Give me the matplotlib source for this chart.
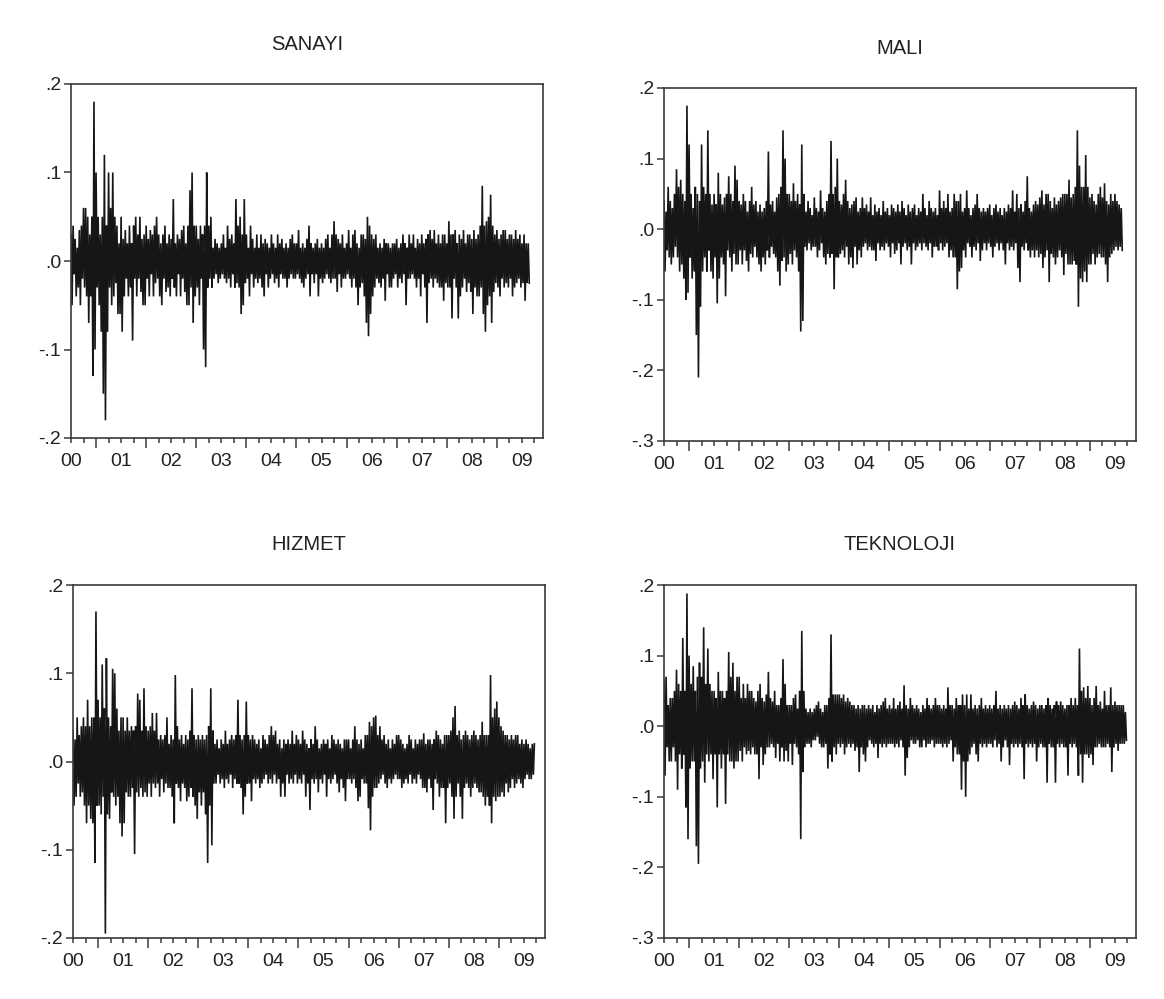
import numpy as np
import matplotlib
matplotlib.use("Agg")
import matplotlib.pyplot as plt
from matplotlib.ticker import FixedLocator, FuncFormatter, NullFormatter

plt.rcParams['font.family'] = ['Liberation Sans', 'DejaVu Sans']

# weekly extreme returns in percent (from mid 2000 on)
sanayi = [
    3, -5, 4, -1.5, 2.5, -4, 1.5, -3, 3.5, -5, 4, -2, 6, -3, 6, -4, 5, -7, 3, -4, 5, -13, 18, -10,  # 2000
    10, -3, 5, -5, 3, -8, 5, -15, 12, -18, 4, -8, 10, -3, 6, -5, 10, -4, 5, -2.5, 4, -6, 2, -6,
    5, -8, 2.5, -4, 3.5, -2, 2, -4, 4, -3, 2, -9, 4, -2, 5, -4, 3, -2, 5, -3.5, 2.5, -5, 3, -5,  # 2001
    4, -2, 2.5, -4, 3.5, -1.5, 3, -4, 4, -2.5, 5, -2, 3, -4, 2, -5, 3, -2, 4, -3.5, 2, -3, 3, -4,
    2.5, -2, 7, -3, 2, -4, 3, -1.5, 2.5, -4, 3.5, -2, 4, -3.5, 2, -5, 4, -5, 8, -3, 10, -7, 4, -4,  # 2002
    4, -3, 2.5, -5, 4, -2, 3, -10, 4, -12, 10, -3, 4, -2, 5, -3, 1.5, -2, 2.5, -1.5, 2, -2.5, 1.5, -2,
    2, -1.5, 3, -2, 1.5, -2.5, 4, -2, 2.5, -3, 3, -1.5, 2, -3, 7, -2.5, 4, -3, 5, -6, 3, -5, 7, -2.5,  # 2003
    3, -2, 1.5, -4, 4, -1.5, 2.5, -3, 1.5, -2, 3, -2.5, 1.5, -2, 3, -3, 2, -4, 2.5, -1.5, 2, -3, 1.5, -2,
    3, -1.5, 2, -2.5, 1.5, -2, 3, -3, 2, -1.5, 2.5, -2, 1.5, -2, 2, -3, 1.5, -2, 2.5, -1.5, 3, -2, 2, -2,  # 2004
    2, -1.5, 3.5, -2, 1.5, -2.5, 2, -3, 1.5, -2, 2.5, -1.5, 4, -4, 2, -1.5, 1.5, -2.5, 2, -1.5, 2.5, -4, 1.5, -2,
    2, -2.5, 1.5, -2, 2.5, -1.5, 3, -2, 1.5, -2.5, 3, -2, 4.5, -2, 3, -3.5, 2.5, -1.5, 2, -3, 3, -2, 1.5, -2,  # 2005
    2, -1.5, 3.5, -2, 1.5, -3, 3, -2, 3.5, -3, 2, -5, 1.5, -3, 3, -2.5, 3, -4, 2.5, -7, 5, -8.5, 4, -6,
    3, -4, 2.5, -3, 3, -2, 1.5, -2.5, 2, -3, 1.5, -2, 2.5, -4.5, 2, -1.5, 2, -3, 1.5, -3, 2, -2,  # 2006
    2, -1.5, 2.5, -3, 1.5, -2, 2, -2.5, 3, -1.5, 2, -5, 1.5, -2, 3, -2, 2, -1.5, 3, -2, 1.5, -3, 2.5, -2,
    2, -4, 3, -1.5, 2, -3, 2.5, -7, 3, -2.5, 3.5, -2, 2.5, -3, 3.5, -2, 2, -2.5, 3, -3, 2, -3, 3, -4.5,  # 2007
    3, -2.5, 2, -3, 4.5, -3, 3, -6.5, 3, -2, 3.5, -3, 2, -6.5, 3, -4, 2.5, -3, 3.5, -2, 2, -3.5, 3, -2.5,
    3, -3.5, 2.5, -6, 3.5, -3, 2.5, -4, 3, -4, 4, -3, 8.5, -6, 4, -8, 4.5, -5, 5, -4, 7.5, -7, 4, -3.5,  # 2008
    3, -2.5, 3.5, -3, 2.5, -4, 3, -2, 3.5, -3, 3.5, -2.5, 2.5, -3, 3, -2, 3, -4, 2.5, -3, 3.5, -2.5, 2.5, -2,
    3, -3, 2, -2.5, 3, -4.5, 2, -2.5, 2, -2.5,  # 2009
]

mali = [
    4, -6, 2.5, -3, 6, -4, 4, -5, 3, -4, 5, -2.5, 8.5, -4, 6, -6, 7, -5, 5, -7, 4, -10, 17.5, -9,  # 2000
    12, -4, 5, -7, 3, -6, 6, -15, 5, -21, 4, -11, 12, -6, 6, -4, 5, -6, 14, -3, 5, -6, 3.5, -7,
    5, -4, 3.5, -10.5, 8, -7, 5, -4, 3.5, -5, 4.5, -9.5, 5, -3, 7.5, -4, 5, -6, 4, -3.5, 9, -5, 7, -5,  # 2001
    4, -3, 3.5, -5, 5, -3, 4, -4.5, 2.5, -6, 4, -3.5, 6, -4, 3.5, -2.5, 4, -4, 2.5, -5, 3.5, -6, 2.5, -4,
    3, -5, 4, -3, 11, -4, 3.5, -2.5, 4, -3.5, 2.5, -4, 4.5, -6, 5, -8, 6, -4.5, 14, -4, 10, -6, 5, -5,  # 2002
    5, -3.5, 4, -5, 6.5, -3, 4, -4, 5, -6, 3.5, -14.5, 12, -13, 5, -2.5, 2.5, -3, 4, -2, 3, -3, 2, -2.5,
    4.5, -2.5, 3, -4, 2.5, -3, 5.5, -2, 3, -4, 2.5, -5, 4, -3.5, 5, -4, 12.5, -3.5, 5, -8.5, 6, -4, 10, -4,  # 2003
    4, -3.5, 3.5, -3, 5, -4, 7, -2.5, 4, -5, 3, -4, 3.5, -5.5, 4, -2.5, 4.5, -5, 2.5, -3, 3, -4, 4.5, -2.5,
    3, -2, 3.5, -3, 2.5, -2.5, 4.5, -3, 2, -3, 3.5, -4.5, 2.5, -2, 3, -3, 2, -2.5, 4, -3, 2.5, -2,  # 2004
    3, -2.5, 2, -4, 3.5, -2, 3, -3.5, 2.5, -3, 3.5, -2, 2.5, -5, 4, -2.5, 3, -2, 2, -3, 3.5, -2.5, 2.5, -5,
    3, -2, 3.5, -3, 2, -2.5, 3, -2, 2.5, -3, 5, -2, 3, -2.5, 2, -3, 4, -2, 3, -4, 2.5, -2.5,  # 2005
    3, -2.5, 2, -3, 5.5, -2, 3, -3, 4, -2.5, 3, -2, 5, -4, 2.5, -3, 3, -4, 5, -4, 4, -8.5, 4, -6,
    5, -5.5, 2.5, -3, 3, -4, 5.5, -2, 3, -2.5, 2, -4, 3, -2.5, 3.5, -3, 5, -2, 3, -4.5, 2.5, -3, 3, -2,  # 2006
    2.5, -3, 3, -2, 3.5, -2.5, 2, -4, 3, -2.5, 3.5, -2, 2.5, -3, 3, -2, 2, -3, 3, -5, 2.5, -2, 3.5, -3,
    3, -2.5, 5.5, -3, 2.5, -2, 5, -5.5, 3, -7.5, 3.5, -2.5, 2.5, -3, 4, -2, 7.5, -3, 3, -4, 2.5, -3, 3.5, -4,  # 2007
    4, -3, 3.5, -4, 4.5, -3.5, 5.5, -5.5, 3.5, -4, 5, -3, 5, -7.5, 4, -3.5, 3, -4, 4.5, -5, 3.5, -4, 4, -3,
    4.5, -4, 5, -6.5, 5, -3.5, 5, -5, 7, -5, 4.5, -5, 5, -4.5, 6, -5, 14, -11, 9, -7, 6, -7.5, 6, -6,  # 2008
    10.5, -7.5, 6, -5, 4.5, -5, 5, -3.5, 4, -5, 3.5, -4, 5, -3.5, 6, -4, 4.5, -4, 6.5, -5, 4, -7.5, 3.5, -4,
    5, -3.5, 4, -3, 5, -2.5, 4, -3, 3.5, -2.5, 3, -3,  # 2009
]

hizmet = [
    3.5, -5, 2.5, -4, 5, -2.5, 3, -4, 4, -3.5, 5, -5, 4, -7, 7, -5, 4, -6.5, 5, -7, 5, -11.5, 17, -5,  # 2000
    7, -5, 5, -6, 11, -4, 6, -19.5, 11.7, -6, 5, -6.5, 4, -3.5, 10.5, -4, 10, -5, 6, -4, 3.5, -7, 5, -8.5,
    5, -7, 3.5, -3.5, 5, -4, 3.5, -4, 4, -3, 3.5, -10.5, 4, -3.5, 7.7, -4, 7, -3, 3.5, -4, 8.3, -3.5, 4, -4,  # 2001
    3.5, -2.5, 4, -4, 5.5, -2.5, 3.5, -3, 5.5, -2.5, 2.5, -4, 3, -2, 2.5, -3.5, 3, -2.5, 5, -3, 2, -3, 3, -4,
    2.5, -7, 9.8, -2.5, 4, -3, 2.5, -4.5, 3, -2.5, 2, -3, 3, -4.5, 2.5, -4, 3.5, -3, 8.3, -4, 3, -5, 2.5, -6.5,  # 2002
    3, -3.5, 2.5, -5, 3, -3.5, 2.5, -6, 3, -11.5, 4, -5, 8.3, -9.5, 3.5, -2.5, 2, -2.5, 2.5, -1.5, 1.5, -2.5, 2.5, -2,
    2, -3, 3.5, -2, 2, -2.5, 2.5, -1.5, 3, -3, 2.5, -2, 3, -2.5, 7, -2.5, 3, -3, 2.5, -6, 3, -4, 6.8, -2.5,  # 2003
    3, -2.5, 2.5, -4.5, 3, -2, 2.5, -2.5, 2, -2, 2.5, -3, 1.5, -2.5, 3, -2, 2.5, -1.5, 2, -2.5, 3, -2, 4, -2.5,
    3, -1.5, 3.5, -2.5, 2, -2, 2.5, -4, 1.5, -2.5, 2.5, -4, 2, -1.5, 2.5, -2.5, 2, -2, 3.5, -2.5, 2, -1.5, 3, -2.5,  # 2004
    2.5, -2, 2, -2.5, 3.5, -1.5, 2.5, -4, 2, -2.5, 1.5, -5.5, 2.5, -2, 2, -2.5, 4, -2, 2.5, -3.5, 1.5, -2, 2, -2.5,
    2.5, -1.5, 2, -4, 2.5, -2, 1.5, -2.5, 3, -2, 2.5, -1.5, 2, -2.5, 2.5, -3.5, 2, -2, 1.5, -3, 2.5, -4.5, 2.5, -2,  # 2005
    2.5, -2, 1.5, -2.5, 2.5, -2, 4, -3, 2.5, -4.5, 2, -4, 2.5, -2, 1.5, -2.5, 3, -2.5, 3, -5.3, 4.5, -7.8, 4, -4,
    5, -3, 5.2, -3, 3, -2.5, 4, -2, 2.5, -1.5, 3, -2.5, 2, -3, 2.5, -2, 1.5, -2.5, 2.5, -2, 2, -1.5, 3, -2,  # 2006
    3, -2, 2.5, -3, 2, -2.5, 1.5, -2, 2, -2.5, 3, -1.5, 2.5, -2.5, 1.5, -2, 2.5, -2.5, 2, -1.5, 2.5, -2, 2.5, -3,
    3.2, -3, 2, -3.5, 2.5, -2, 2.5, -3, 2, -5.5, 2.5, -2, 3.5, -2.5, 3, -4, 2.5, -3, 2, -3, 3, -7, 3, -3,  # 2007
    3, -2.5, 3.5, -4, 5, -6.5, 6.3, -4, 3, -2.5, 3.5, -4, 2.5, -6.5, 3, -3, 3.5, -2.5, 3, -3, 2.5, -4, 3, -3,
    3.5, -2.5, 3, -3, 2.5, -3.5, 3, -3.5, 4.5, -4, 3, -5, 3, -4, 3, -5, 9.8, -7, 5, -4, 6, -4.5, 6.8, -4,  # 2008
    5, -4, 4, -3.5, 3.5, -4, 3, -2.5, 3, -3.5, 2.5, -3, 3, -2, 2.5, -3, 3, -2.5, 3, -2, 2, -2.5, 2.5, -3,
    2, -2, 2.5, -1.5, 2, -2, 1.5, -2, 2, -1.5, 2,  # 2009
]

teknoloji = [
    6.5, -7, 7, -3, 3, -5, 4, -5, 4, -3, 5, -5, 8, -9, 6, -4, 5, -6, 12.5, -4, 5, -11.5, 18.8, -16,  # 2000
    10, -6, 6, -5, 8.5, -5, 5, -17, 7, -19.5, 9, -6, 7, -5, 14, -8, 6, -4, 11, -5, 6, -4, 5, -7.5,
    5, -4, 4, -11.5, 7.7, -4, 5, -6, 5, -4, 4, -11, 5, -4, 10.5, -5, 7, -5, 9, -6, 5, -5, 7, -5,  # 2001
    7, -3.5, 4, -5, 6, -3, 4, -4, 6, -3.5, 5, -4, 5, -3, 4, -4, 3.5, -4, 5, -7.5, 6, -3, 4, -5.5,
    3.5, -4, 4.5, -3, 7.7, -3, 4, -2.5, 3.5, -3, 5, -4.5, 3, -2.5, 3, -5, 4, -3, 9.5, -5, 6, -3.5, 3, -5,  # 2002
    3, -2.5, 3, -5.5, 4, -2.5, 4.5, -3, 2.5, -4, 5, -16, 13.5, -6.5, 5, -3, 2.5, -2.5, 2, -2.5, 2.5, -3, 2, -2,
    2.5, -2, 3, -1.5, 3.5, -2.5, 2.5, -3, 2, -3, 3, -2.5, 3, -6, 4, -4, 13, -5, 4.5, -3, 4.5, -4, 4.5, -2.5,  # 2003
    4.5, -3, 4, -2.5, 4.5, -4, 3.5, -3, 4, -2.5, 3.5, -3, 3, -2.5, 3, -3.5, 2.5, -3, 3, -6.5, 2.5, -3, 3, -4,
    3, -5, 2.5, -3, 3, -2, 2.5, -2.5, 3, -3, 2, -2.5, 3, -4.5, 2.5, -2.5, 3, -3, 3.5, -2.5, 4, -3, 2.5, -2.5,  # 2004
    3, -2.5, 2.5, -2.5, 4, -3, 2.5, -2.5, 3, -3, 3.5, -2, 2.5, -3, 5.8, -7, 3, -4.5, 2.5, -3, 4, -2, 3, -2.5,
    2.5, -2.5, 3, -2, 2.5, -3, 2, -3, 3, -2, 2.5, -3, 4, -2.5, 3, -2.5, 2.5, -2, 3, -3, 4, -2.5, 3, -2.5,  # 2005
    3, -2.5, 2.5, -3, 3, -2.5, 2.5, -3, 5.5, -2.5, 3, -2, 3, -5, 2.5, -3, 4, -4, 3, -4, 3, -9, 4.5, -5,
    3, -10, 4.5, -5, 2.5, -4, 4.5, -3, 2.5, -2.5, 3, -4, 2.5, -5, 3, -2.5, 4, -3, 2.5, -2.5, 3, -3, 2.5, -2.5,  # 2006
    3, -2.5, 2.5, -3, 3, -2, 5, -3, 2.5, -2.5, 3, -5, 2.5, -3, 3, -2, 2.5, -3, 3, -5.5, 2.5, -2.5, 3, -3,
    3.5, -2.5, 3, -3, 2.5, -2.5, 4, -3, 3, -7.5, 4.5, -2.5, 3, -3, 2.5, -2.5, 3, -3, 3.5, -2.5, 3, -5, 2.5, -3,  # 2007
    3, -2.5, 3, -3, 2.5, -3, 3, -8, 4, -2.5, 3, -3, 2.5, -3, 3, -8, 3.5, -2.5, 3, -3, 3.5, -2.5, 3, -3,
    2.5, -3, 3, -7, 3, -2.5, 4, -3, 3, -2.5, 4, -3, 3, -7, 11, -4, 5, -8, 5.5, -4, 4, -4, 5.7, -4.5,  # 2008
    4, -4, 3, -5.5, 4, -3, 5.7, -3, 3, -2.5, 3.5, -3, 2.5, -3, 5, -3, 3, -2.5, 3, -3, 5.5, -6.5, 3, -3,
    3.5, -2.5, 3, -3.5, 3, -2.5, 3, -2.5, 3, -2.5, 2, -2,  # 2009
]

titles = ['SANAYI', 'MALI', 'HIZMET', 'TEKNOLOJI']
series = [sanayi, mali, hizmet, teknoloji]
y_ranges = [(-0.2, 0.2), (-0.3, 0.2), (-0.2, 0.2), (-0.3, 0.2)]

W, H = 1164, 999
# panel boxes in pixels: left, top, right, bottom
boxes = [(71, 84, 543, 438), (664, 88, 1136, 441),
         (73, 585, 545, 938), (664, 585, 1136, 938)]

edge = '#3a3a3a'
fig = plt.figure(figsize=(W / 100, H / 100), dpi=100)

for title, vals, (y0, y1), (l, t, r, b) in zip(titles, series, y_ranges, boxes):
    ax = fig.add_axes([l / W, 1 - b / H, (r - l) / W, (b - t) / H])
    v = np.array(vals, dtype=float) / 100
    x = 2000.5 + np.arange(len(v)) / 48
    ax.plot(x, v, color='#161616', lw=1.2, solid_joinstyle='miter')

    ax.set_xlim(2000.5, 2009.92)
    ax.set_ylim(y0, y1)

    ax.xaxis.set_major_locator(FixedLocator(np.arange(2001, 2010)))
    ax.xaxis.set_major_formatter(NullFormatter())
    ax.xaxis.set_minor_locator(FixedLocator(np.arange(2000.5, 2009.9, 0.25)))
    ax.xaxis.set_minor_formatter(FuncFormatter(
        lambda q, p: f"{int(q) % 100:02d}" if abs(q % 1 - 0.5) < 1e-6 else ""))

    ax.set_yticks(np.arange(y0, y1 + 0.001, 0.1))
    ax.yaxis.set_major_formatter(FuncFormatter(
        lambda q, p: f"{q:.1f}".replace("0.", ".") if abs(q) > 1e-9 else ".0"))

    ax.tick_params(axis='x', which='major', length=7, width=1.1, color=edge, direction='out')
    ax.tick_params(axis='x', which='minor', length=3.5, width=1.1, color=edge, direction='out',
                   labelsize=14, labelcolor='#222222', pad=7)
    ax.tick_params(axis='y', length=5, width=1.1, color=edge, direction='out',
                   labelsize=14, labelcolor='#222222', pad=2)
    for s in ax.spines.values():
        s.set_color(edge)
        s.set_linewidth(1.2)

    ax.text(0.5, 1 + 40 / (b - t), title, transform=ax.transAxes,
            ha='center', va='center', fontsize=14.5, color='#222222')

fig.savefig('out.png', dpi=100)
